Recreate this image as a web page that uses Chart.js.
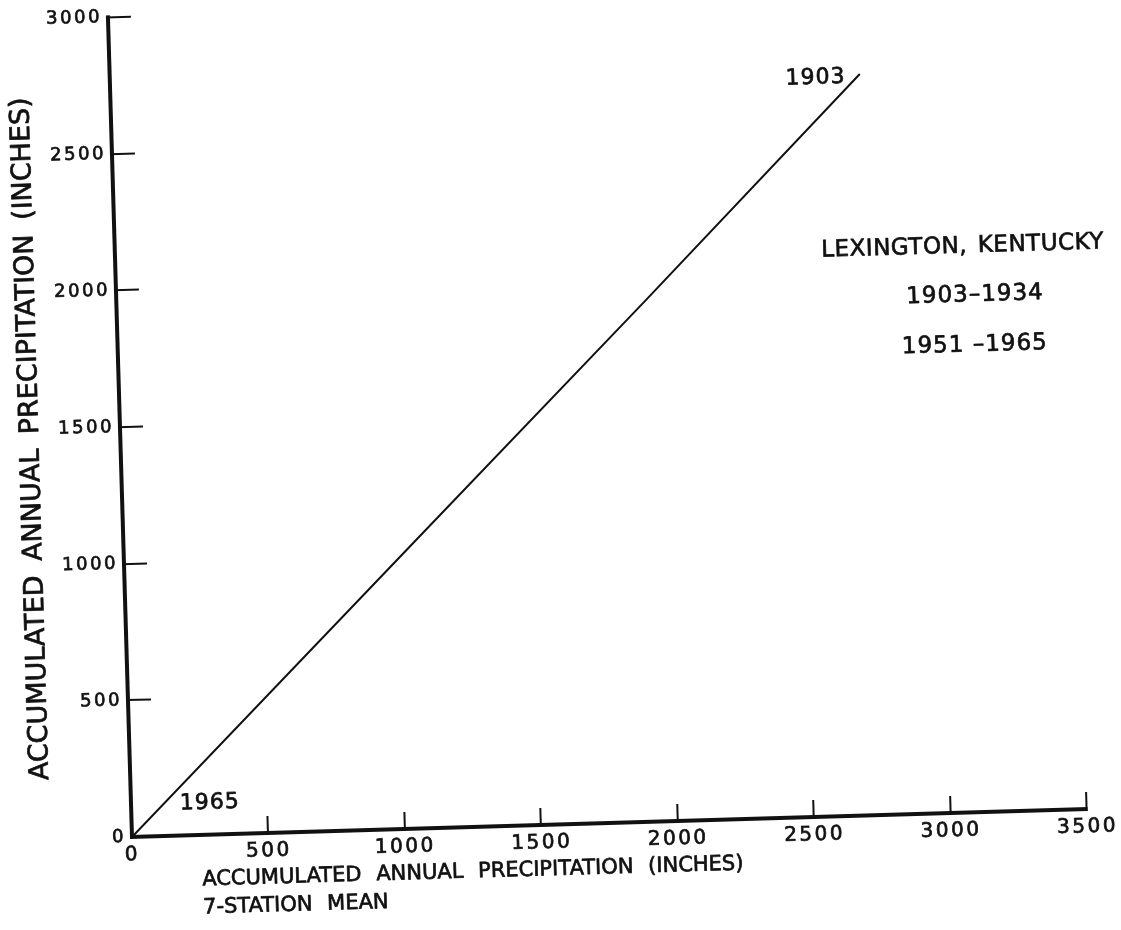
<!DOCTYPE html>
<html>
<head>
<meta charset="utf-8">
<title>Double-mass curve, Lexington, Kentucky</title>
<script src="https://cdn.jsdelivr.net/npm/chart.js@4.4.1/dist/chart.umd.min.js"></script>
<style>
  html, body { margin: 0; padding: 0; background: #fff; }
  canvas { display: block; }
</style>
</head>
<body>
<canvas id="chart" width="1121" height="930"></canvas>
<script>
// Accumulated annual precipitation (inches): 7-station mean (x) vs Lexington (y)
const stationMeanAccum = [0, 1037, 1942, 2747];
const lexingtonAccum   = [0, 1021, 1911, 2712];

const xTickValues = [0, 500, 1000, 1500, 2000, 2500, 3000, 3500];
const yTickValues = [0, 500, 1000, 1500, 2000, 2500, 3000];

const xTitleLines = ['ACCUMULATED ANNUAL PRECIPITATION (INCHES)', '7-STATION MEAN'];
const yTitle = 'ACCUMULATED ANNUAL PRECIPITATION (INCHES)';
const stationNote = ['LEXINGTON, KENTUCKY', '1903–1934', '1951 –1965'];
const endYears = ['1965', '1903'];

const INK = '#111';
const FONT = '"DejaVu Sans", "Liberation Sans", sans-serif';
const PEN = 0.7;                       // extra stroke so the lettering reads like ink
const TILT = 1.68 * Math.PI / 180;   // the drawing sheet sits slightly turned

const points = stationMeanAccum.map((v, i) => ({ x: v, y: lexingtonAccum[i] }));

// Whole sheet is drawn turned about the origin; lettering is added on top
const sheet = {
  id: 'sheet',
  beforeDraw(chart) {
    const { ctx, chartArea } = chart;
    ctx.save();
    ctx.translate(chartArea.left, chartArea.bottom);
    ctx.rotate(-TILT);
    ctx.translate(-chartArea.left, -chartArea.bottom);
    ctx.letterSpacing = '2.5px';
  },
  afterDraw(chart) {
    const { ctx, chartArea, scales: { x, y } } = chart;
    ctx.letterSpacing = '0px';
    ctx.fillStyle = INK;
    ctx.strokeStyle = INK;
    ctx.lineWidth = PEN;
    ctx.lineJoin = 'round';
    ctx.textBaseline = 'middle';

    const put = (str, px, py, size, align, word) => {
      ctx.font = size + 'px ' + FONT;
      ctx.textAlign = align;
      ctx.wordSpacing = (word || 0) + 'px';
      ctx.fillText(str, px, py);
      ctx.strokeText(str, px, py);
    };

    // station note
    ctx.letterSpacing = '0.5px';
    put(stationNote[0], x.getPixelForValue(3105), y.getPixelForValue(2070), 23, 'center', 3);
    ctx.letterSpacing = '1px';
    put(stationNote[1], x.getPixelForValue(3145), y.getPixelForValue(1891), 23, 'center');
    put(stationNote[2], x.getPixelForValue(3139), y.getPixelForValue(1708), 23, 'center');

    // years at the ends of the curve
    put(endYears[0], x.getPixelForValue(289), y.getPixelForValue(116), 22, 'center');
    put(endYears[1], x.getPixelForValue(2585), y.getPixelForValue(2702), 22, 'center');
    ctx.letterSpacing = '0px';

    // x-axis title, two lines
    put(xTitleLines[0], chartArea.left + 69, chartArea.bottom + 45, 21, 'left', 8);
    put(xTitleLines[1], chartArea.left + 69, chartArea.bottom + 73, 21, 'left', 8);

    // y-axis title
    ctx.save();
    ctx.translate(chartArea.left - 89, (chartArea.top + chartArea.bottom) / 2 + 9);
    ctx.rotate(-Math.PI / 2);
    put(yTitle, 0, 0, 27, 'center', 6);
    ctx.restore();

    ctx.restore();
  }
};

const plain = v => String(v);

new Chart(document.getElementById('chart'), {
  type: 'scatter',
  data: {
    datasets: [{
      data: points,
      showLine: true,
      borderColor: INK,
      borderWidth: 2,
      pointRadius: 0,
      pointHoverRadius: 0,
      fill: false
    }]
  },
  options: {
    responsive: false,
    animation: false,
    devicePixelRatio: 1,
    events: [],
    layout: { padding: { left: 0, top: 17, right: 33.6, bottom: 0 } },
    plugins: { legend: { display: false }, tooltip: { enabled: false } },
    scales: {
      x: {
        type: 'linear',
        position: 'bottom',
        min: 0,
        max: 3500,
        afterBuildTicks: s => { s.ticks = xTickValues.map(v => ({ value: v })); },
        afterFit: s => { s.height = 93; s.paddingLeft = 0; s.paddingRight = 0; },
        grid: { drawOnChartArea: false, drawTicks: true, tickLength: -17, color: INK, lineWidth: 2 },
        border: { display: true, color: INK, width: 4 },
        ticks: {
          color: INK, font: { family: FONT, size: 20 }, padding: 23, maxRotation: 0, autoSkip: false,
          textStrokeColor: INK, textStrokeWidth: PEN, callback: plain
        }
      },
      y: {
        type: 'linear',
        position: 'left',
        min: 0,
        max: 3000,
        afterBuildTicks: s => { s.ticks = yTickValues.map(v => ({ value: v })); },
        afterFit: s => { s.width = 132; s.paddingTop = 0; s.paddingBottom = 0; },
        grid: { drawOnChartArea: false, drawTicks: true, tickLength: -23, color: INK, lineWidth: 2 },
        border: { display: true, color: INK, width: 4 },
        ticks: {
          color: INK, font: { family: FONT, size: 18 }, padding: 29, autoSkip: false,
          textStrokeColor: INK, textStrokeWidth: PEN, callback: plain
        }
      }
    }
  },
  plugins: [sheet]
});
</script>
</body>
</html>
